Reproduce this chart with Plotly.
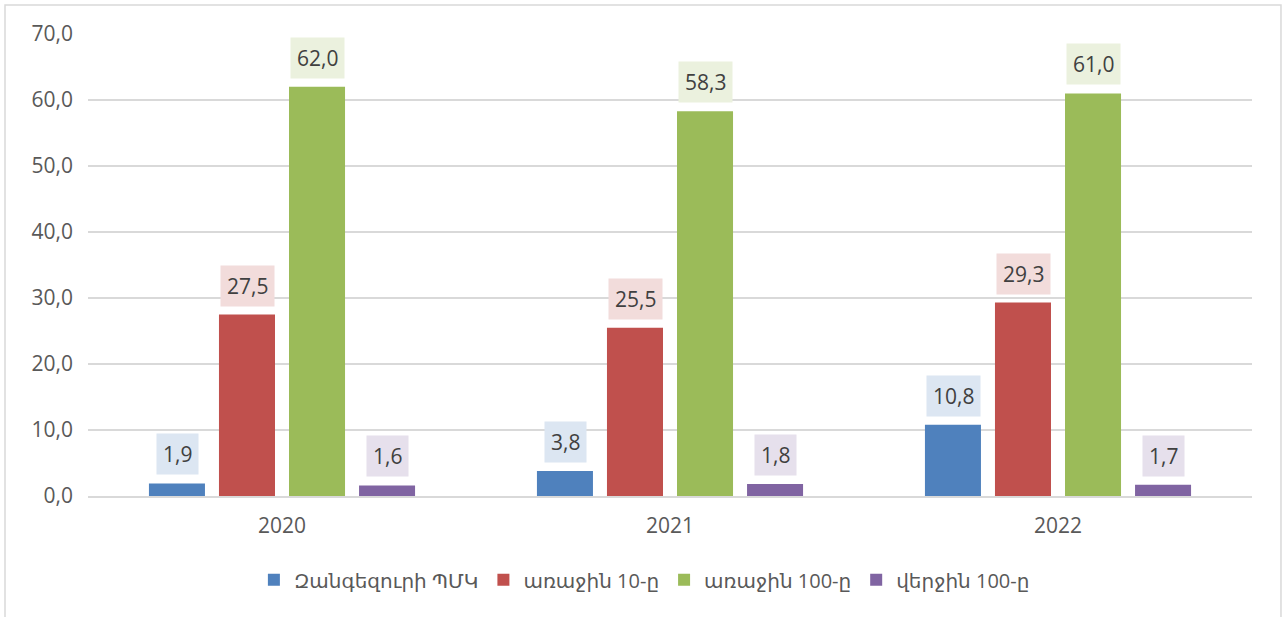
import plotly.graph_objects as go

years = ["2020", "2021", "2022"]
series_names = ["Զանգեզուրի ՊՄԿ", "առաջին 10-ը", "առաջին 100-ը", "վերջին 100-ը"]
zangezur = [1.9, 3.8, 10.8]
first10 = [27.5, 25.5, 29.3]
first100 = [62.0, 58.3, 61.0]
last100 = [1.6, 1.8, 1.7]
y_ticks = [0, 10, 20, 30, 40, 50, 60, 70]

series_values = [zangezur, first10, first100, last100]
bar_colors = ["#4f81bd", "#c0504d", "#9bbb59", "#8064a2"]
label_bg = ["#dce6f2", "#f2dcdb", "#ebf1de", "#e6e0ec"]

FONT = "Open Sans, DejaVu Sans, sans-serif"
TXT = "#595959"

fig = go.Figure()
for name, vals, col in zip(series_names, series_values, bar_colors):
    fig.add_trace(go.Bar(x=years, y=vals, name=name, marker=dict(color=col, line=dict(width=0))))

# data labels (x given as category index)
slot = 70
for i, (vals, bg) in enumerate(zip(series_values, label_bg)):
    for j, v in enumerate(vals):
        fig.add_annotation(
            x=j, y=v, xref="x", yref="y",
            text=f"{v:.1f}".replace(".", ","),
            showarrow=False, xanchor="center", yanchor="bottom",
            xshift=(i - 1.5) * slot, yshift=8,
            bgcolor=bg, borderpad=6,
            font=dict(family=FONT, size=21, color="#404040"),
        )

# outer chart border
fig.add_shape(type="rect", xref="paper", yref="paper",
              x0=-0.0713, x1=1.0249, y0=-0.4, y1=1.0628,
              line=dict(color="#d9d9d9", width=1.5), fillcolor="rgba(0,0,0,0)", layer="below")

fig.update_layout(
    width=1287, height=617,
    margin=dict(l=88, r=35, t=34, b=121),
    paper_bgcolor="white", plot_bgcolor="white",
    separators=", ",
    barmode="group", bargap=0.278, bargroupgap=0.2,
    font=dict(family=FONT, size=21, color=TXT),
    showlegend=True,
    legend=dict(orientation="h", x=0.478, xanchor="center", y=-0.139, yanchor="top",
                font=dict(family=FONT, size=20, color=TXT), itemwidth=30,
                traceorder="normal"),
    xaxis=dict(type="category", range=[-0.5, len(years) - 0.5], autorange=False,
               showgrid=False, showline=True, linecolor="#d9d9d9", linewidth=1.5,
               ticks="", tickfont=dict(family=FONT, size=21, color=TXT), ticklabelstandoff=10),
    yaxis=dict(range=[0, 70], autorange=False, tickvals=y_ticks, tickformat=".1f",
               showgrid=True, gridcolor="#d9d9d9", gridwidth=1.5,
               zeroline=False, showline=False, ticks="",
               tickfont=dict(family=FONT, size=21, color=TXT), ticklabelstandoff=14),
)

fig.write_html("out.html", config={"displayModeBar": False},
               post_script="document.body.style.margin='0';")
